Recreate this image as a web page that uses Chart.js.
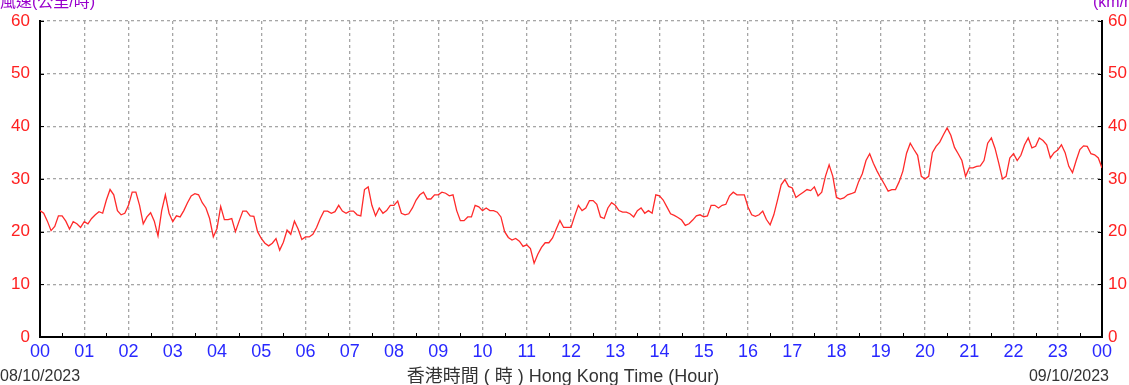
<!DOCTYPE html>
<html>
<head>
<meta charset="utf-8">
<script src="https://cdn.jsdelivr.net/npm/chart.js@4/dist/chart.umd.min.js"></script>
<style>
  html, body { margin: 0; padding: 0; background: #fff; }
  canvas { display: block; }
</style>
</head>
<body>
<canvas id="windChart" width="1129" height="385"></canvas>
<script>
// hour labels along the bottom (00 .. 23, then 00 of next day)
const hourLabels = ['00','01','02','03','04','05','06','07','08','09','10','11',
                    '12','13','14','15','16','17','18','19','20','21','22','23','00'];

// wind speed (km/h), read every 5 minutes
const speedH00 = [
  24, 23.5, 22, 20.2, 21, 23, 23, 22, 20.5, 21.9, 21.5, 20.8,
  21.9, 21.5, 22.5, 23.2, 23.8, 23.5, 26, 28, 27, 24, 23.2, 23.5,
  25, 27.5, 27.5, 25, 21.5, 22.8, 23.6, 22, 19.2, 24, 27, 23.5,
  21.9, 23, 22.8, 24, 25.5, 26.8, 27.2, 27, 25.5, 24.5, 22.5, 19,
  20.6, 24.8, 22.3, 22.3, 22.5, 20, 22, 23.9, 23.9, 23, 22.9, 20,
  18.7, 17.8, 17.3, 17.8, 18.7, 16.5, 18, 20.3, 19.5, 22, 20.5, 18.5
];
const speedH06 = [
  19, 19, 19.5, 20.8, 22.5, 23.9, 23.9, 23.5, 23.8, 25, 23.9, 23.5,
  23.9, 23.9, 23.2, 23, 28, 28.5, 25, 23, 24.5, 23.5, 24, 25,
  25, 25.8, 23.5, 23.2, 23.4, 24.5, 26, 27, 27.5, 26.2, 26.2, 27,
  27, 27.5, 27.3, 26.8, 27, 24, 22.1, 22.1, 22.8, 22.8, 25, 24.7,
  24, 24.5, 24, 24, 23.7, 22.8, 20, 18.9, 18.4, 18.7, 18.2, 17.2,
  17.5, 16.8, 14, 15.7, 17, 17.9, 17.9, 18.8, 20.5, 22.1, 20.8, 20.8
];
const speedH12 = [
  20.8, 23, 25, 24, 24.5, 25.9, 25.9, 25.2, 22.8, 22.5, 24.5, 25.5,
  25, 24, 23.7, 23.7, 23.4, 22.8, 24, 24.5, 23.5, 24, 23.5, 27,
  26.8, 26, 24.7, 23.4, 23.1, 22.7, 22.2, 21.2, 21.5, 22.2, 23, 23.2,
  22.8, 23, 25, 25, 24.5, 25, 25.2, 26.8, 27.5, 27, 27, 27,
  24.7, 23.2, 22.9, 23.2, 23.9, 22.3, 21.3, 23.2, 26, 28.9, 29.9, 28.6,
  28.3, 26.5, 27, 27.5, 28, 27.8, 28.5, 26.8, 27.5, 30.5, 32.7, 30.5
];
const speedH18 = [
  26.5, 26.2, 26.4, 27, 27.2, 27.5, 29.5, 31, 33.5, 34.8, 33, 31.5,
  30.2, 29, 27.7, 28, 28, 29.5, 31.5, 34.9, 36.8, 35.6, 34.5, 30.5,
  30, 30.5, 35, 36.2, 37, 38.4, 39.7, 38.3, 36, 34.8, 33.5, 30.5,
  32.1, 32.1, 32.4, 32.5, 33.5, 36.8, 37.8, 35.8, 33, 30, 30.5, 34,
  34.8, 33.5, 34.5, 36.5, 37.8, 35.9, 36.2, 37.8, 37.3, 36.5, 34, 35,
  35.5, 36.5, 35, 32.4, 31.2, 33.5, 35.6, 36.3, 36.2, 34.8, 34.6, 34,
  32.1
];

const startDate = '08/10/2023';
const endDate = '09/10/2023';
const axisTitle = '香港時間 ( 時 ) Hong Kong Time (Hour)';

const speeds = speedH00.concat(speedH06, speedH12, speedH18);
const points = speeds.map((v, i) => ({ x: i / 12, y: v }));

const FONT = '"Liberation Sans", "Noto Sans CJK TC", sans-serif';

// minor ticks, dates, axis title
const decor = {
  id: 'decor',
  afterDraw(chart) {
    const ctx = chart.ctx;
    const a = chart.chartArea;
    const xs = chart.scales.x, ys = chart.scales.y;
    ctx.save();
    ctx.strokeStyle = '#000';
    ctx.lineWidth = 1;
    ctx.beginPath();
    for (let h = 0.5; h < 24; h += 1) {
      const px = Math.round(xs.getPixelForValue(h)) + 0.5;
      ctx.moveTo(px, a.bottom);
      ctx.lineTo(px, a.bottom - 4);
    }
    for (let v = 10; v < 60; v += 10) {
      const py = Math.round(ys.getPixelForValue(v)) + 0.5;
      ctx.moveTo(a.left, py);
      ctx.lineTo(a.left + 4, py);
      ctx.moveTo(a.right, py);
      ctx.lineTo(a.right - 4, py);
    }
    ctx.moveTo(a.left, a.top + 0.5);
    ctx.lineTo(a.left + 4, a.top + 0.5);
    ctx.moveTo(a.right, a.top + 0.5);
    ctx.lineTo(a.right - 4, a.top + 0.5);
    ctx.stroke();

    ctx.fillStyle = '#333';
    ctx.textBaseline = 'middle';
    ctx.font = '16px ' + FONT;
    ctx.textAlign = 'left';
    ctx.fillText(startDate, 0, 377);
    ctx.textAlign = 'right';
    ctx.fillText(endDate, 1109, 377);
    ctx.font = '18px ' + FONT;
    ctx.textAlign = 'center';
    ctx.fillText(axisTitle, 563, 377);

    // cut-off unit labels at the very top
    ctx.fillStyle = '#9900cc';
    ctx.font = '16px ' + FONT;
    ctx.textBaseline = 'alphabetic';
    ctx.textAlign = 'left';
    ctx.fillText('風速(公里/時)', 0, 7);
    ctx.fillText('(km/h)', 1093, 7);
    ctx.restore();
  }
};

new Chart(document.getElementById('windChart'), {
  type: 'line',
  data: {
    datasets: [{
      data: points,
      borderColor: '#ff2a2a',
      borderWidth: 1.3,
      pointRadius: 0,
      tension: 0,
      fill: false
    }]
  },
  options: {
    responsive: false,
    animation: false,
    layout: { padding: { top: 21, left: 0, right: 0, bottom: 0 } },
    plugins: { legend: { display: false }, tooltip: { enabled: false } },
    scales: {
      x: {
        type: 'linear',
        min: 0,
        max: 24,
        afterFit(s) { s.height = 48; },
        ticks: {
          stepSize: 1,
          autoSkip: false,
          maxRotation: 0,
          padding: 4,
          color: '#2828ff',
          font: { family: FONT, size: 18 },
          callback: v => hourLabels[v]
        },
        grid: { color: '#a6a6a6', lineWidth: 1.3, drawTicks: false },
        border: { display: true, color: '#000', width: 2, dash: [3, 3] }
      },
      y: {
        min: 0,
        max: 60,
        afterFit(s) { s.width = 40; },
        ticks: {
          stepSize: 10,
          padding: 10,
          color: '#ff2020',
          font: { family: FONT, size: 17 }
        },
        grid: { color: '#a6a6a6', lineWidth: 1.3, drawTicks: false },
        border: { display: true, color: '#000', width: 2, dash: [3, 3] }
      },
      y2: {
        position: 'right',
        min: 0,
        max: 60,
        afterFit(s) { s.width = 27; },
        ticks: {
          stepSize: 10,
          padding: 6,
          color: '#ff2020',
          font: { family: FONT, size: 17 }
        },
        grid: { drawOnChartArea: false, drawTicks: false },
        border: { display: true, color: '#000', width: 2 }
      }
    }
  },
  plugins: [decor]
});
</script>
</body>
</html>
